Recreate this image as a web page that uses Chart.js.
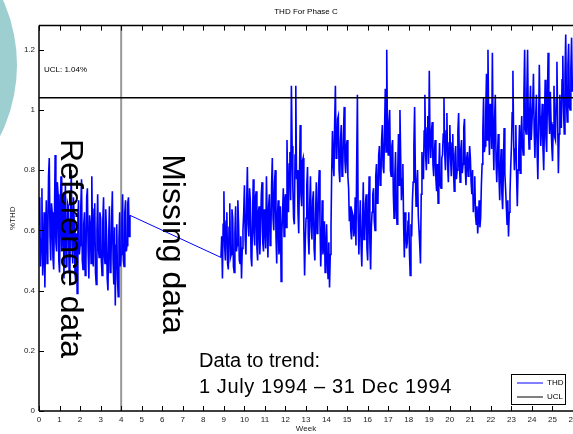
<!DOCTYPE html>
<html>
<head>
<meta charset="utf-8">
<script src="https://cdn.jsdelivr.net/npm/chart.js@4/dist/chart.umd.min.js"></script>
<style>
  html, body { margin: 0; padding: 0; background: #fff; }
  #wrap { position: relative; width: 573px; height: 434px; overflow: hidden; }
  #blob { position: absolute; left: -299px; top: -93px; width: 316px; height: 316px;
          border-radius: 50%; background: #9dcfd0; z-index: 0; }
  #myChart { position: absolute; left: 0; top: 0; z-index: 1; }
</style>
</head>
<body>
<div id="wrap">
  <div id="blob"></div>
  <canvas id="myChart" width="590" height="434"></canvas>
</div>
<script>
// samples every 6 hours, x axis in weeks
var sampleStep = 1 / 28;
var refStartWeek = 0;
var trendStartWeek = 8.86;
var uclValue = 1.04;
var refEndWeek = 4;

// reference period, weeks 0 - 4.4
var refTHD = [
  0.62,0.71,0.48,0.57,0.74,0.45,0.52,0.66,0.41,0.60,0.70,0.49,0.55,0.78,0.84,0.58,0.50,0.69,0.66,0.51,0.47,0.63,0.85,0.56,0.53,0.76,0.72,0.50,
  0.46,0.67,0.78,0.53,0.58,0.72,0.44,0.61,0.75,0.48,0.52,0.69,0.68,0.47,0.45,0.64,0.80,0.55,0.49,0.71,0.63,0.46,0.43,0.59,0.39,0.65,0.70,0.52,
  0.55,0.68,0.77,0.50,0.47,0.62,0.66,0.45,0.50,0.71,0.74,0.53,0.44,0.65,0.62,0.49,0.78,0.57,0.48,0.67,0.69,0.46,0.42,0.60,0.72,0.54,0.51,0.66,
  0.64,0.50,0.45,0.63,0.71,0.52,0.49,0.67,0.60,0.44,0.40,0.58,0.68,0.46,0.47,0.64,0.73,0.50,0.42,0.61,0.35,0.55,0.62,0.44,0.38,0.57,0.66,0.48,
  0.52,0.63,0.72,0.50,0.48,0.66,0.70,0.53,0.55,0.69,0.71,0.58,0.65
];

// trend period, week 8.86 onwards
var trendTHD = [
  0.51,0.58,0.44,0.62,
  0.73,0.55,0.50,0.63,0.66,0.49,0.47,0.61,0.69,0.51,0.52,0.67,0.64,0.48,0.46,0.59,0.68,0.53,0.55,0.70,0.62,0.50,0.49,0.58,0.44,0.54,0.60,0.66,
  0.75,0.57,0.52,0.69,0.81,0.62,0.58,0.74,0.70,0.51,0.48,0.64,0.77,0.59,0.55,0.71,0.73,0.54,0.50,0.66,0.68,0.52,0.60,0.72,0.76,0.56,0.53,0.67,
  0.62,0.54,0.78,0.63,0.51,0.68,0.72,0.55,0.57,0.75,0.84,0.64,0.60,0.76,0.80,0.58,0.49,0.65,0.70,0.52,0.55,0.68,0.43,0.59,0.66,0.74,0.58,0.70,
  0.72,0.61,0.90,0.73,0.66,0.82,0.86,0.70,1.08,0.88,0.74,0.64,0.62,0.85,1.08,0.77,0.80,0.66,0.59,0.78,0.95,0.72,0.68,0.83,0.84,0.60,0.45,0.57,
  0.64,0.75,0.81,0.58,0.52,0.69,0.78,0.61,0.57,0.70,0.73,0.54,0.50,0.66,0.76,0.59,0.60,0.74,0.80,0.62,0.48,0.57,0.70,0.52,0.55,0.63,0.46,0.53,
  0.62,0.50,0.44,0.56,0.41,0.52,0.61,0.80,0.93,0.82,0.78,0.96,1.08,0.84,0.85,0.97,0.98,0.80,0.76,0.90,0.95,0.78,0.80,0.92,1.01,0.83,0.79,0.88,
  0.90,0.78,0.74,0.63,0.68,0.60,0.57,0.66,0.65,0.58,0.60,0.71,0.55,0.82,1.05,0.64,0.52,0.63,0.70,0.55,0.48,0.62,0.76,0.57,0.58,0.69,0.72,0.54,
  0.50,0.64,0.78,0.56,0.47,0.61,0.66,0.72,0.74,0.63,0.60,0.78,0.82,0.69,0.70,0.85,0.88,0.75,0.76,0.90,0.95,0.81,0.79,0.93,1.07,0.86,1.20,0.91,
  0.85,0.96,1.00,0.80,0.78,0.88,0.90,0.72,0.64,0.78,0.86,0.68,0.62,0.80,0.92,0.75,1.00,0.84,0.70,0.77,0.82,0.62,0.51,0.66,0.60,0.54,0.56,0.63,
  0.66,0.52,0.45,0.62,0.58,0.70,0.76,0.88,1.01,0.79,0.68,0.74,0.80,0.65,0.60,0.55,0.49,0.72,0.86,0.80,0.77,0.93,1.05,0.85,0.80,0.94,0.98,0.82,
  1.13,0.90,0.84,0.93,0.96,0.82,0.78,0.86,0.90,0.77,0.73,0.82,0.69,0.80,0.89,0.75,0.74,0.84,0.85,0.92,1.04,0.86,0.80,0.93,0.99,0.82,0.76,0.89,
  0.95,0.84,0.78,0.89,0.92,0.80,0.73,0.85,0.88,0.77,0.80,0.93,0.99,0.83,0.76,0.87,0.90,0.79,0.82,0.94,0.97,0.81,0.75,0.84,0.86,0.78,0.79,0.88,
  0.84,0.76,0.72,0.80,0.66,0.72,0.78,0.65,0.62,0.68,0.59,0.64,0.70,0.61,0.64,0.75,0.82,0.93,1.04,0.86,0.88,1.00,1.12,0.90,1.20,0.95,0.85,1.02,
  0.98,0.87,1.19,0.92,0.80,0.97,1.05,0.83,0.76,0.85,0.92,0.78,0.70,0.81,0.87,0.72,0.67,0.80,0.94,0.79,0.74,0.68,0.62,0.70,0.58,0.66,0.72,0.81,
  0.88,0.99,1.13,0.90,0.80,0.87,0.95,0.78,0.68,0.80,0.86,0.95,0.79,0.90,0.98,0.88,0.85,1.05,1.20,0.94,0.92,1.06,1.20,0.96,0.87,1.00,1.08,0.90,
  0.90,1.02,1.12,0.93,0.84,0.97,1.05,0.86,0.77,0.94,1.15,0.98,0.88,0.95,1.02,0.87,0.80,0.96,1.10,0.91,0.86,1.03,1.19,0.99,0.92,1.06,0.96,0.88,
  0.83,0.95,1.08,0.91,0.90,1.04,1.16,0.97,0.79,0.92,1.05,0.98,0.94,1.10,1.18,1.00,0.92,1.12,1.25,1.03,0.96,1.15,1.22,1.01,1.00,1.14,1.24,1.06
];

var weekMax = 26;
var thdMax = 1.28;

function toPoints(values, start) {
  var pts = [];
  for (var i = 0; i < values.length; i++) {
    pts.push({ x: start + i * sampleStep, y: values[i] });
  }
  return pts;
}

var thdPoints = toPoints(refTHD, refStartWeek).concat(toPoints(trendTHD, trendStartWeek));
var fontFamily = "'Liberation Sans', Arial, sans-serif";

// axes box, inward tick marks, week-4 marker
var framePlugin = {
  id: 'frame',
  beforeDatasetsDraw: function(chart) {
    var c = chart.ctx, a = chart.chartArea;
    var xs = chart.scales.x;
    c.save();
    c.strokeStyle = '#999';
    c.lineWidth = 2;
    var px = xs.getPixelForValue(refEndWeek);
    c.beginPath(); c.moveTo(px, a.top); c.lineTo(px, a.bottom); c.stroke();
    c.restore();
  },
  afterDatasetsDraw: function(chart) {
    var c = chart.ctx, a = chart.chartArea;
    var xs = chart.scales.x, ys = chart.scales.y;
    c.save();
    c.strokeStyle = '#000';
    c.lineWidth = 1.5;
    c.beginPath();
    c.moveTo(a.left, a.top); c.lineTo(a.right + 20, a.top);
    c.moveTo(a.left, a.top); c.lineTo(a.left, a.bottom);
    c.moveTo(a.left, a.bottom); c.lineTo(a.right + 20, a.bottom);
    c.stroke();
    c.lineWidth = 1;
    c.beginPath();
    xs.ticks.forEach(function(t) {
      var p = Math.round(xs.getPixelForValue(t.value)) + 0.5;
      c.moveTo(p, a.bottom); c.lineTo(p, a.bottom - 5);
      c.moveTo(p, a.top); c.lineTo(p, a.top + 5);
    });
    ys.ticks.forEach(function(t) {
      var p = Math.round(ys.getPixelForValue(t.value)) + 0.5;
      c.moveTo(a.left, p); c.lineTo(a.left + 5, p);
    });
    c.stroke();

    // annotations
    c.fillStyle = '#000';
    c.font = '8px ' + fontFamily;
    c.textBaseline = 'middle';
    c.fillText('UCL: ' + uclValue.toFixed(2) + '%', xs.getPixelForValue(0.24), ys.getPixelForValue(1.133));

    c.textBaseline = 'alphabetic';
    c.font = '32px ' + fontFamily;
    [['Reference data', 1.07, 0.903], ['Missing data', 6.04, 0.853]].forEach(function(n) {
      c.save();
      c.translate(xs.getPixelForValue(n[1]), ys.getPixelForValue(n[2]));
      c.rotate(Math.PI / 2);
      c.fillText(n[0], 0, 0);
      c.restore();
    });
    c.font = '20px ' + fontFamily;
    c.fillText('Data to trend:', xs.getPixelForValue(7.79), ys.getPixelForValue(0.147));
    c.letterSpacing = '0.6px';
    c.fillText('1 July 1994 \u2013 31 Dec 1994', xs.getPixelForValue(7.79), ys.getPixelForValue(0.06));
    c.letterSpacing = '0px';

    // legend box
    var lx = a.right - 62, ly = a.bottom - 37;
    c.fillStyle = '#fff';
    c.fillRect(lx, ly, 54, 30);
    c.strokeStyle = '#000';
    c.lineWidth = 1;
    c.strokeRect(lx + 0.5, ly + 0.5, 54, 30);
    c.font = '8px ' + fontFamily;
    c.textBaseline = 'middle';
    chart.data.datasets.forEach(function(ds, i) {
      var yy = ly + 9 + i * 14;
      c.strokeStyle = ds.borderColor;
      c.lineWidth = 1;
      c.beginPath(); c.moveTo(lx + 6, yy); c.lineTo(lx + 32, yy); c.stroke();
      c.fillStyle = '#000';
      c.fillText(ds.label, lx + 36, yy);
    });
    c.restore();
  }
};

var ctx = document.getElementById('myChart').getContext('2d');
var chart = new Chart(ctx, {
  type: 'line',
  data: {
    datasets: [{
      label: 'THD',
      data: thdPoints,
      borderColor: '#0000ff',
      borderWidth: 1.6,
      pointRadius: 0,
      tension: 0,
      order: 2,
      segment: {
        // the straight join across the missing weeks is thinner
        borderWidth: function(s) { return s.p1.parsed.x - s.p0.parsed.x > 1 ? 1 : 1.6; }
      }
    }, {
      label: 'UCL',
      data: [{ x: 0, y: uclValue }, { x: weekMax, y: uclValue }],
      borderColor: '#000000',
      borderWidth: 1.5,
      pointRadius: 0,
      order: 1
    }]
  },
  options: {
    responsive: false,
    animation: false,
    layout: { padding: { left: 0, right: 17, top: 0, bottom: 0 } },
    plugins: {
      legend: { display: false },
      tooltip: { enabled: false },
      title: {
        display: true,
        fullSize: false,
        text: 'THD For Phase C',
        color: '#000',
        font: { family: fontFamily, size: 8, weight: 'normal', lineHeight: 1.2 },
        padding: { top: 7, bottom: 9 }
      }
    },
    scales: {
      x: {
        type: 'linear',
        min: 0,
        max: weekMax,
        grid: { display: false, drawTicks: false },
        border: { display: false },
        ticks: { stepSize: 1, color: '#222', padding: 4, maxRotation: 0, autoSkip: false,
                 font: { family: fontFamily, size: 8 } },
        title: { display: true, text: 'Week', color: '#222', padding: 0,
                 font: { family: fontFamily, size: 8 } },
        afterFit: function(s) { s.paddingLeft = 0; s.paddingRight = 0; s.height = 23; }
      },
      y: {
        min: 0,
        max: thdMax,
        grid: { display: false, drawTicks: false },
        border: { display: false },
        afterBuildTicks: function(s) {
          s.ticks = s.ticks.filter(function(t) { return Math.abs(t.value * 5 - Math.round(t.value * 5)) < 1e-6; });
        },
        ticks: { stepSize: 0.2, color: '#222', padding: 4,
                 font: { family: fontFamily, size: 8 },
                 callback: function(v) { return String(Math.round(v * 10) / 10); } },
        title: { display: true, text: '%THD', color: '#222', padding: { top: 8, bottom: 0 },
                 font: { family: fontFamily, size: 8 } },
        afterFit: function(s) { s.paddingTop = 0; s.paddingBottom = 0; s.width = 39; }
      }
    }
  },
  plugins: [framePlugin]
});
</script>
</body>
</html>
